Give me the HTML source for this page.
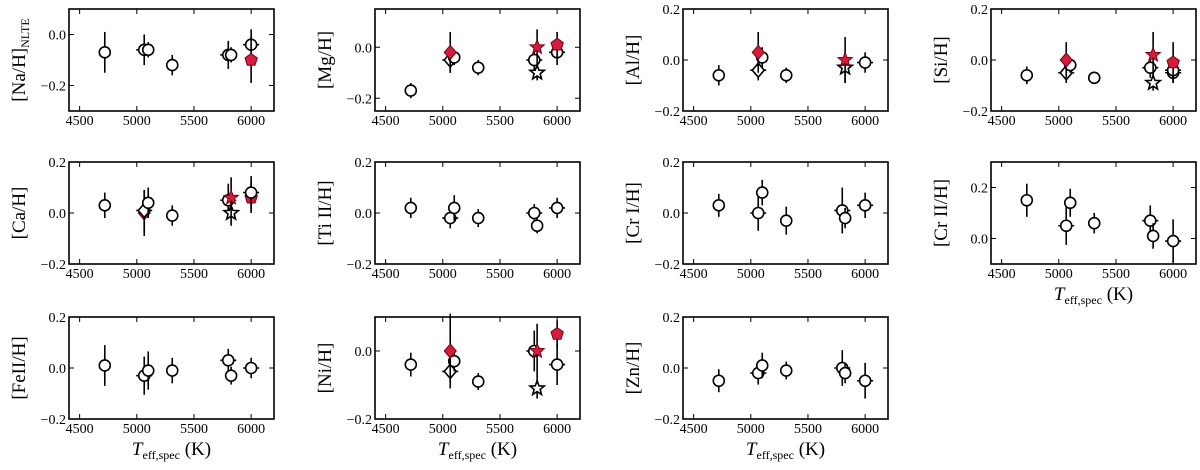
<!DOCTYPE html>
<html><head><meta charset="utf-8"><style>
body{margin:0;background:#fff;}
svg{display:block;font-family:"Liberation Serif",serif;}
</style></head><body>
<svg id="chart" width="1200" height="470" viewBox="0 0 1200 470"></svg>
<script>
// Data arrays: teff (K), abundance value, y error, marker, red(1)/open(0)
const naTeff=[4720,5065,5100,5310,5800,5825,6000,6000];
const naVal=[-0.07,-0.06,-0.06,-0.12,-0.08,-0.08,-0.04,-0.10];
const naErr=[0.08,0.06,0.03,0.04,0.055,0.03,0.06,0.09];
const naMk=['o','o','o','o','o','o','o','p'];
const naRed=[0,0,0,0,0,0,0,1];

const mgTeff=[4720,5065,5100,5065,5310,5800,5825,5825,6000,6000];
const mgVal=[-0.17,-0.05,-0.04,-0.02,-0.08,-0.05,-0.10,0.0,-0.02,0.01];
const mgErr=[0.03,0.05,0.03,0.08,0.03,0.05,0.03,0.07,0.05,0.05];
const mgMk=['o','d','o','d','o','o','s','s','o','p'];
const mgRed=[0,0,0,1,0,0,0,1,0,1];

const alTeff=[4720,5065,5100,5065,5310,5825,5825,6000];
const alVal=[-0.06,-0.04,0.01,0.03,-0.06,-0.03,0.0,-0.01];
const alErr=[0.04,0.04,0.04,0.08,0.03,0.06,0.09,0.04];
const alMk=['o','d','o','d','o','s','s','o'];
const alRed=[0,0,0,1,0,0,1,0];

const siTeff=[4720,5065,5100,5065,5310,5800,5825,5825,6000,6000,6000];
const siVal=[-0.06,-0.05,-0.02,0.0,-0.07,-0.03,-0.09,0.02,-0.05,-0.04,-0.01];
const siErr=[0.035,0.04,0.03,0.07,0.01,0.04,0.03,0.09,0.04,0.04,0.08];
const siMk=['o','d','o','d','o','o','s','s','o','o','p'];
const siRed=[0,0,0,1,0,0,0,1,0,0,1];

const caTeff=[4720,5065,5065,5100,5310,5800,5825,5825,6000,6000];
const caVal=[0.03,0.0,0.01,0.04,-0.01,0.05,0.0,0.06,0.06,0.08];
const caErr=[0.05,0.09,0.08,0.06,0.04,0.065,0.05,0.08,0.06,0.065];
const caMk=['o','d','d','o','o','o','s','s','p','o'];
const caRed=[0,1,0,0,0,0,0,1,1,0];

const tiTeff=[4720,5065,5100,5310,5800,5825,6000];
const tiVal=[0.02,-0.02,0.02,-0.02,0.0,-0.05,0.02];
const tiErr=[0.04,0.04,0.05,0.035,0.035,0.03,0.04];

const cr1Teff=[4720,5065,5100,5310,5800,5825,6000];
const cr1Val=[0.03,0.0,0.08,-0.03,0.01,-0.02,0.03];
const cr1Err=[0.045,0.07,0.05,0.055,0.09,0.04,0.05];

const cr2Teff=[4720,5065,5100,5310,5800,5825,6000];
const cr2Val=[0.15,0.05,0.14,0.06,0.07,0.01,-0.01];
const cr2Err=[0.065,0.075,0.055,0.04,0.06,0.05,0.085];

const feTeff=[4720,5065,5100,5310,5800,5825,6000];
const feVal=[0.01,-0.03,-0.01,-0.01,0.03,-0.03,0.0];
const feErr=[0.08,0.075,0.075,0.05,0.045,0.035,0.04];

const niTeff=[4720,5065,5100,5065,5310,5800,5825,5825,6000,6000];
const niVal=[-0.04,-0.06,-0.03,0.0,-0.09,0.0,-0.11,0.0,-0.04,0.05];
const niErr=[0.035,0.03,0.03,0.11,0.025,0.06,0.03,0.08,0.06,0.04];
const niMk=['o','d','o','d','o','o','s','s','o','p'];
const niRed=[0,0,0,1,0,0,0,1,0,1];

const znTeff=[4720,5065,5100,5310,5800,5825,6000];
const znVal=[-0.05,-0.02,0.01,-0.01,0.0,-0.02,-0.05];
const znErr=[0.045,0.045,0.05,0.035,0.07,0.04,0.07];

const xTicks=[4500,5000,5500,6000];

const NS='http://www.w3.org/2000/svg';
const svg=document.getElementById('chart');
function el(tag,attrs,parent){const e=document.createElementNS(NS,tag);for(const k in attrs)e.setAttribute(k,attrs[k]);(parent||svg).appendChild(e);return e;}
const colX=[69,375,683,991], rowY=[9,162,317], W=205, H=102;
const XMIN=4407, XMAX=6200;
function xErrFor(t){return (t===5065||t===5800||t===6000)?70:0;}

function panel(name,title,sub,col,row,ymin,ymax,yTicks,teff,val,err,mk,red,showX){
  const g=el('g',{});
  
  
  const x0=colX[col], y0=rowY[row];
  const sx=t=>x0+(t-XMIN)/(XMAX-XMIN)*W;
  const sy=v=>y0+(ymax-v)/(ymax-ymin)*H;
  xTicks.forEach(t=>{
    const x=sx(t);
    el('line',{x1:x,x2:x,y1:y0+H,y2:y0+H-5,stroke:'#000','stroke-width':1},g);
    el('line',{x1:x,x2:x,y1:y0,y2:y0+5,stroke:'#000','stroke-width':1},g);
    const tl=el('text',{x:x,y:y0+H+14,'font-size':14,'text-anchor':'middle',fill:'#000'},g);
    tl.textContent=t;
    
    
  });
  yTicks.forEach(v=>{
    const y=sy(v);
    el('line',{x1:x0,x2:x0+5,y1:y,y2:y,stroke:'#000','stroke-width':1},g);
    el('line',{x1:x0+W,x2:x0+W-5,y1:y,y2:y,stroke:'#000','stroke-width':1},g);
    const tl=el('text',{x:x0-3,y:y+5,'font-size':14,'text-anchor':'end',fill:'#000'},g);
    tl.textContent=(v<0?'\u2212':'')+Math.abs(v).toFixed(1);
    
    
  });
  const tx=x0-44, ty=y0+H/2;
  const tt=el('text',{x:tx,y:ty,'font-size':19,'text-anchor':'middle',fill:'#000',transform:`rotate(-90 ${tx} ${ty})`},g);
  tt.textContent=title;
  if(sub){const ts=el('tspan',{'font-size':12,dy:4},tt);ts.textContent=sub;}
  
  
  for(let i=0;i<teff.length;i++){
    const x=sx(teff[i]), y=sy(val[i]);
    const m=mk?mk[i]:'o', r=red?red[i]:0;
    const pg=el('g',{},g);
    
    
    el('line',{x1:x,x2:x,y1:sy(val[i]+err[i]),y2:sy(val[i]-err[i]),stroke:'#000','stroke-width':1.6},pg);
    const xe=r?0:xErrFor(teff[i]);
    if(xe) el('line',{x1:sx(teff[i]-xe),x2:sx(teff[i]+xe),y1:y,y2:y,stroke:'#000','stroke-width':1.6},pg);
    const fill=r?'#d41c3c':'#fff', st=r?'#7a0010':'#000', sw=r?1:1.6;
    if(m==='o') el('circle',{cx:x,cy:y,r:5.5,fill:fill,stroke:st,'stroke-width':sw},pg);
    else if(m==='d') el('polygon',{points:`${x},${y-7} ${x+6},${y} ${x},${y+7} ${x-6},${y}`,fill:fill,stroke:st,'stroke-width':sw},pg);
    else if(m==='p'){let p=[];for(let k=0;k<5;k++){const a=-Math.PI/2+k*2*Math.PI/5;p.push((x+6.5*Math.cos(a)).toFixed(1)+','+(y+6.5*Math.sin(a)).toFixed(1));}el('polygon',{points:p.join(' '),fill:fill,stroke:st,'stroke-width':sw},pg);}
    else {let p=[];for(let k=0;k<10;k++){const a=-Math.PI/2+k*Math.PI/5,rr=k%2?3.2:7.5;p.push((x+rr*Math.cos(a)).toFixed(1)+','+(y+rr*Math.sin(a)).toFixed(1));}el('polygon',{points:p.join(' '),fill:fill,stroke:st,'stroke-width':sw},pg);}
  }
  el('rect',{x:x0,y:y0,width:W,height:H,fill:'none',stroke:'#000','stroke-width':1.6},g);
  if(showX){
    const xl=el('text',{x:x0+W/2,y:y0+H+36,'font-size':19,'text-anchor':'middle',fill:'#000'},g);
    const a=el('tspan',{'font-style':'italic'},xl);a.textContent='T';
    const b=el('tspan',{'font-size':12,dy:4},xl);b.textContent='eff,spec';
    const c=el('tspan',{dy:-4},xl);c.textContent=' (K)';
    
    
  }
}
panel('na','[Na/H]','NLTE',0,0,-0.3,0.1,[0,-0.2],naTeff,naVal,naErr,naMk,naRed,false);
panel('mg','[Mg/H]','',1,0,-0.25,0.15,[0,-0.2],mgTeff,mgVal,mgErr,mgMk,mgRed,false);
panel('al','[Al/H]','',2,0,-0.2,0.2,[0.2,0,-0.2],alTeff,alVal,alErr,alMk,alRed,false);
panel('si','[Si/H]','',3,0,-0.2,0.2,[0.2,0,-0.2],siTeff,siVal,siErr,siMk,siRed,false);
panel('ca','[Ca/H]','',0,1,-0.2,0.2,[0.2,0,-0.2],caTeff,caVal,caErr,caMk,caRed,false);
panel('ti2','[Ti II/H]','',1,1,-0.2,0.2,[0.2,0,-0.2],tiTeff,tiVal,tiErr,null,null,false);
panel('cr1','[Cr I/H]','',2,1,-0.2,0.2,[0.2,0,-0.2],cr1Teff,cr1Val,cr1Err,null,null,false);
panel('cr2','[Cr II/H]','',3,1,-0.1,0.3,[0.2,0],cr2Teff,cr2Val,cr2Err,null,null,true);
panel('fe2','[FeII/H]','',0,2,-0.2,0.2,[0.2,0,-0.2],feTeff,feVal,feErr,null,null,true);
panel('ni','[Ni/H]','',1,2,-0.2,0.1,[0,-0.2],niTeff,niVal,niErr,niMk,niRed,true);
panel('zn','[Zn/H]','',2,2,-0.2,0.2,[0.2,0,-0.2],znTeff,znVal,znErr,null,null,true);
</script>
</body></html>
